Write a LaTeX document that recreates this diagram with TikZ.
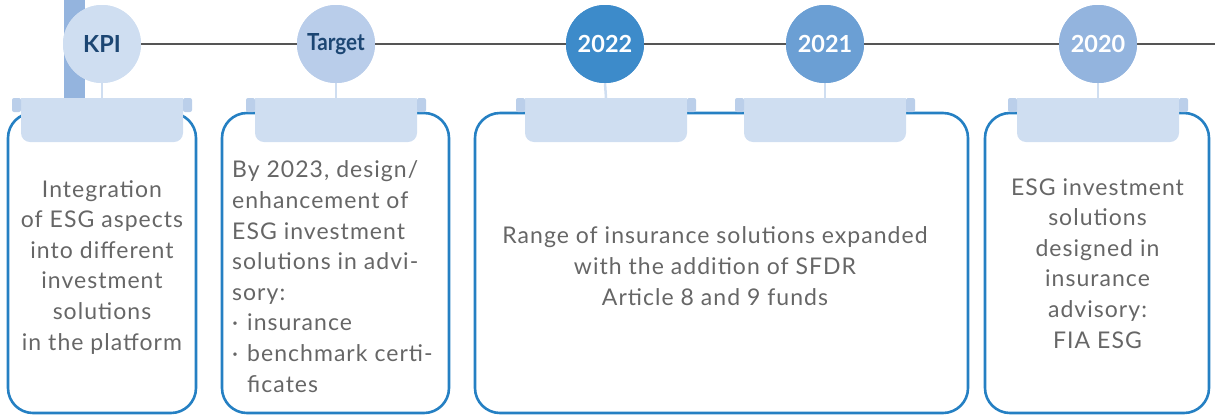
\documentclass[tikz,border=0pt]{standalone}
\usepackage{fontspec}
\setmainfont{Lato}
\newfontfamily\bodyfont{Lato}[LetterSpace=4.5]
\definecolor{lightb}{HTML}{CFDEF1}
\definecolor{tabsq}{HTML}{BBCFEA}
\definecolor{tgtb}{HTML}{B9CDEA}
\definecolor{y22}{HTML}{3D8BCA}
\definecolor{y21}{HTML}{6B9FD4}
\definecolor{y20}{HTML}{93B4DE}
\definecolor{barc}{HTML}{94B4DE}
\definecolor{boxc}{HTML}{2580C3}
\definecolor{navy}{HTML}{1C4673}
\definecolor{txt}{HTML}{666666}
\definecolor{linec}{HTML}{555555}
\tikzset{
  yearc/.style={circle, minimum size=78pt, inner sep=0pt, fill=#1},
  lbl/.style={font=\fontsize{23.5}{25}\selectfont\bfseries},
  boxline/.style={draw=boxc, line width=2.6pt, rounded corners=25pt},
  stemline/.style={draw=lightb, line width=2.5pt},
  tline/.style={draw=linec, line width=2.8pt},
  body/.style={font=\bodyfont\fontsize{23}{30.6}\selectfont, text=txt, inner sep=0pt},
}
\newcommand\mytab[2]{%
  \fill[lightb, rounded corners=9pt] ({#1-81},98) rectangle ({#1+81},142);
  \fill[lightb] ({#1-81},98) rectangle ({#1+81},120);
  \fill[tabsq, rounded corners=2pt] ({#1-90},98) rectangle ({#1-81},112);
  \fill[tabsq, rounded corners=2pt] ({#1+81},98) rectangle ({#1+90},112);
  \coordinate (#2) at (#1,98);
}
\begin{document}
\begin{tikzpicture}[x=1pt,y=-1pt]
\useasboundingbox (0,0) rectangle (1215,416);
% left bar
\fill[barc] (64,0) rectangle (85,98);
% circle positions
\node[yearc=lightb] (kpi) at (102,44) {};
\node[yearc=tgtb] (tgt) at (336,44) {};
\node[yearc=y22] (c22) at (605,44) {};
\node[yearc=y21] (c21) at (825,44) {};
\node[yearc=y20] (c20) at (1098,44) {};
\coordinate (lineend) at (1215,44);
% boxes
\draw[boxline] (8,113) rectangle (196,413);
\draw[boxline] (222,113) rectangle (449,413);
\draw[boxline] (475,113) rectangle (968,413);
\draw[boxline] (985,113) rectangle (1209,413);
% tabs
\mytab{102}{t1}
\mytab{336}{t2}
\mytab{606}{t3}
\mytab{825}{t4}
\mytab{1098}{t5}
% timeline and stems
\draw[tline] (kpi.east) -- (lineend);
\draw[stemline] (kpi.south) -- (t1);
\draw[stemline] (tgt.south) -- (t2);
\draw[stemline] (c22.south) -- (t3);
\draw[stemline] (c21.south) -- (t4);
\draw[stemline] (c20.south) -- (t5);
\node[yearc=lightb, lbl, text=navy] (kpiL) at (kpi) {KPI};
\node[yearc=tgtb, lbl, text=navy] (tgtL) at (tgt) {\scalebox{0.88}[1]{Target}};
\node[yearc=y22, lbl, text=white] (c22L) at (c22) {2022};
\node[yearc=y21, lbl, text=white] (c21L) at (c21) {2021};
\node[yearc=y20, lbl, text=white] (c20L) at (c20) {2020};
% texts (base anchor = last line baseline)
\node[body, align=center, anchor=base] (x1) at (102,350) {Integration\\of ESG aspects\\into different\\investment\\solutions\\in the platform};
\node[body, align=left, anchor=base west] (x2) at (232,392) {By 2023, design/\\enhancement of\\ESG investment\\solutions in advi-\\sory:\\\makebox[15pt][l]{·}insurance\\\makebox[15pt][l]{·}benchmark certi-\\\hspace*{15pt}ficates};
\node[body, align=center, anchor=base] (x3) at (715,305) {Range of insurance solutions expanded\\with the addition of SFDR\\Article 8 and 9 funds};
\node[body, align=center, anchor=base] (x4) at (1097.5,348) {ESG investment\\solutions\\designed in\\insurance\\advisory:\\FIA ESG};
\end{tikzpicture}
\end{document}
